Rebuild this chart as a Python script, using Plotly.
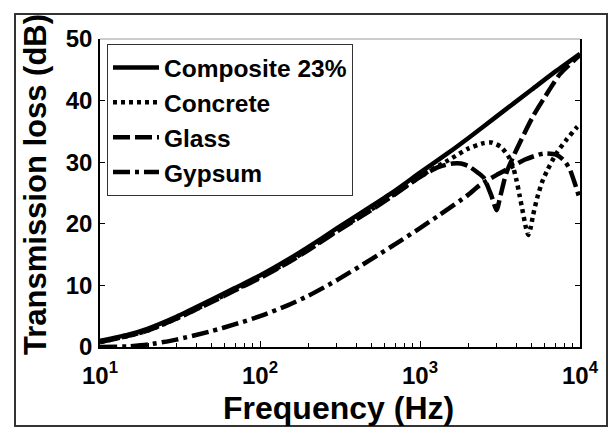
import plotly.graph_objects as go

# ---------------- data ----------------
freq_composite = [10, 15, 20, 30, 50, 70, 100, 150, 200, 300, 500, 700, 1000,
                  1500, 2000, 3000, 5000, 7000, 10000]
tl_composite = [1.0, 2.0, 3.0, 4.9, 7.7, 9.6, 11.6, 14.2, 16.2, 19.2, 22.9, 25.4, 28.3,
                31.5, 33.9, 37.4, 41.8, 44.7, 47.6]

freq_concrete = [10, 15, 20, 30, 50, 70, 100, 150, 200, 300, 500, 700, 1000,
                 1500, 2000, 2500, 2800, 3200, 3600, 3800, 4000, 4200, 4400, 4600,
                 4750, 4900, 5100, 5400, 5800, 6200, 7100, 8200, 9500, 10000]
tl_concrete = [0.8, 1.8, 2.7, 4.6, 7.4, 9.3, 11.3, 13.8, 15.8, 18.8, 22.4, 24.9, 27.7,
               30.3, 32.2, 33.1, 33.2, 32.5, 30.8, 29.4, 27.2, 24.5, 21.8, 19.3,
               18.2, 19.2, 21.5, 24.2, 26.8, 28.5, 31.4, 33.6, 35.6, 36.2]

freq_glass = [10, 15, 20, 30, 50, 70, 100, 150, 200, 300, 500, 700, 1000,
              1300, 1600, 1800, 2000, 2300, 2500, 2800, 3010, 3200, 3470, 4020,
              5100, 6490, 7490, 10000]
tl_glass = [0.8, 1.8, 2.7, 4.6, 7.3, 9.2, 11.2, 13.7, 15.7, 18.7, 22.3, 24.8, 27.6,
            29.2, 29.8, 29.8, 29.4, 28.3, 27.5, 24.5, 22.2, 24.8, 28.3, 32.1,
            37.5, 41.9, 44.3, 47.4]

freq_gypsum = [10, 15, 20, 30, 50, 70, 100, 150, 200, 300, 500, 750, 1000, 1334,
               2000, 2370, 3000, 3650, 4500, 5890, 7140, 8000, 8650, 9300, 10000]
tl_gypsum = [0.0, 0.1, 0.4, 1.2, 2.6, 3.7, 5.0, 6.8, 8.3, 10.8, 14.3, 17.2, 19.3, 21.5,
             24.7, 26.3, 27.9, 29.1, 30.4, 31.4, 31.2, 30.2, 28.8, 26.5, 23.9]

series_names = ["Composite 23%", "Concrete", "Glass", "Gypsum"]

x_tickvals = [10, 100, 1000, 10000]
x_ticktext = ["10<sup>1</sup>", "10<sup>2</sup>", "10<sup>3</sup>", "10<sup>4</sup>"]
x_minor = [m * d for d in (10, 100, 1000) for m in range(2, 10)]
y_tickvals = [0, 10, 20, 30, 40, 50]

x_title = "Frequency (Hz)"
y_title = "Transmission loss (dB)"

# ---------------- figure ----------------
FONT = "Liberation Sans, Arial, Helvetica, sans-serif"
W, H = 610, 428
L, R, T, B = 100, 30, 39, 81  # plot area: x 100..580, y 39..347
pw, ph = W - L - R, H - T - B

def px_x(p):
    return (p - L) / pw

def px_y(p):
    return (H - B - p) / ph

fig = go.Figure()
styles = [
    dict(dash="solid", width=4.5),
    dict(dash="4px,4px", width=4.5),
    dict(dash="17px,5px", width=4.5),
    dict(dash="17px,5px,4px,5px", width=4.5),
]
data = [(freq_composite, tl_composite), (freq_concrete, tl_concrete),
        (freq_glass, tl_glass), (freq_gypsum, tl_gypsum)]
for (fx, fy), name, st in zip(data, series_names, styles):
    fig.add_trace(go.Scatter(
        x=fx, y=fy, mode="lines", name=name,
        line=dict(color="black", width=st["width"], dash=st["dash"], shape="spline", smoothing=0.6),
        hoverinfo="skip", cliponaxis=True,
    ))

fig.update_layout(
    width=W, height=H,
    margin=dict(l=L, r=R, t=T, b=B),
    paper_bgcolor="white", plot_bgcolor="white",
    font=dict(family=FONT, color="black", size=20, weight="bold"),
    showlegend=True,
    legend=dict(
        x=px_x(107), y=px_y(44), xanchor="left", yanchor="top",
        bgcolor="white", bordercolor="#333", borderwidth=1,
        font=dict(family=FONT, size=24.5, color="black", weight="bold"),
        itemwidth=46, tracegroupgap=0,
    ),
    xaxis=dict(
        type="log", range=[1, 4],
        tickvals=x_tickvals, ticktext=x_ticktext,
        ticks="inside", ticklen=6, tickwidth=1, tickcolor="black",
        minor=dict(tickvals=x_minor, ticks="inside", ticklen=4, tickcolor="black", tickwidth=1),
        showline=True, linecolor="black", linewidth=1.5, mirror=False,
        showgrid=False, zeroline=False,
        tickfont=dict(family=FONT, size=24, color="black", weight="bold"),
        ticklabelstandoff=6,
    ),
    yaxis=dict(
        range=[0, 50], tickvals=y_tickvals,
        ticks="inside", ticklen=5, tickwidth=1, tickcolor="black",
        showline=True, linecolor="black", linewidth=1.5, mirror="ticks",
        showgrid=False, zeroline=False,
        tickfont=dict(family=FONT, size=24, color="black", weight="bold"),
        ticklabelstandoff=1,
    ),
    annotations=[
        dict(text=x_title, xref="paper", yref="paper", x=px_x(338), y=px_y(408),
             xanchor="center", yanchor="middle", showarrow=False,
             font=dict(family=FONT, size=32, color="black", weight="bold")),
        dict(text=y_title, xref="paper", yref="paper", x=px_x(35), y=px_y(185),
             xanchor="center", yanchor="middle", showarrow=False, textangle=-90,
             font=dict(family=FONT, size=31, color="black", weight="bold")),
    ],
    shapes=[
        # faint top border of the axes box
        dict(type="line", xref="paper", yref="paper", x0=0, x1=1, y0=1, y1=1,
             line=dict(color="#9a9a9a", width=1)),
        # outer figure frame
        dict(type="rect", xref="paper", yref="paper",
             x0=px_x(15), x1=px_x(607), y0=px_y(426), y1=px_y(14),
             line=dict(color="#333", width=2), layer="below"),
    ],
)

fig.write_html(
    "out.html",
    config={"displayModeBar": False},
    post_script="document.body.style.margin='0';document.body.style.overflow='hidden';",
)
